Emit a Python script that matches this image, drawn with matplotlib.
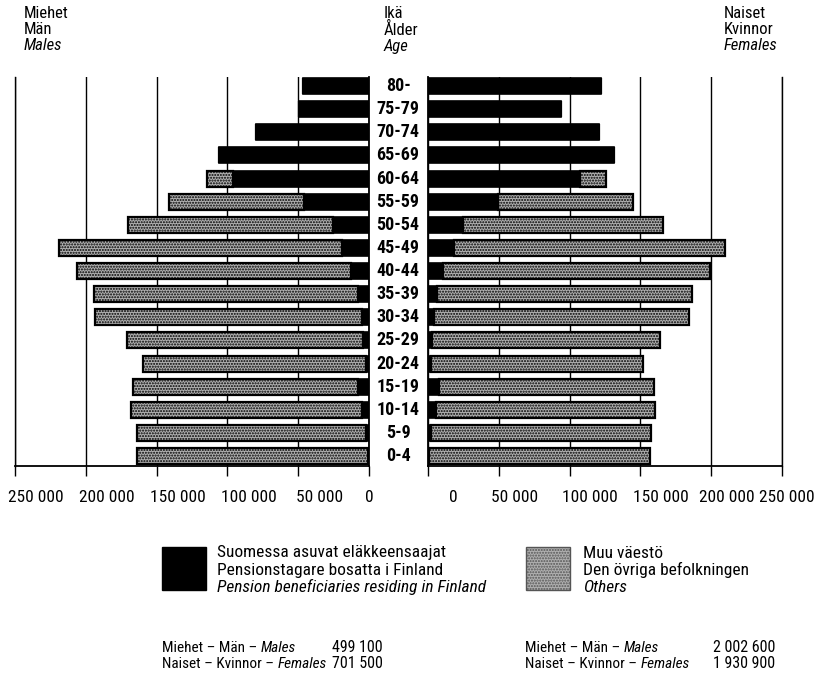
import matplotlib
matplotlib.use("Agg")
import matplotlib.pyplot as plt
import matplotlib.transforms as mtransforms
from matplotlib import font_manager as fm
import numpy as np

# ---------------- data (persons) ----------------
ages = ["0-4", "5-9", "10-14", "15-19", "20-24", "25-29", "30-34", "35-39",
        "40-44", "45-49", "50-54", "55-59", "60-64", "65-69", "70-74", "75-79", "80-"]

male_pension = [1000, 2100, 4900, 7800, 2100, 4200, 4900, 7800,
                12700, 19100, 25400, 45900, 96000, 106000, 79800, 49400, 46600]
male_others = [162800, 161700, 163200, 158900, 157500, 166700, 188600, 186400,
               193500, 199800, 144800, 95300, 18400, 0, 0, 0, 0]

female_pension = [1000, 2000, 5600, 7800, 2000, 2800, 4200, 6400,
                  10600, 18400, 24700, 49400, 107300, 131300, 120700, 93900, 122100]
female_others = [155800, 155500, 154700, 151800, 149800, 161000, 180100, 180000,
                 188500, 191300, 141300, 95300, 18400, 0, 0, 0, 0]

xticks = [0, 50000, 100000, 150000, 200000, 250000]
xtick_labels = ["0", "50 000", "100 000", "150 000", "200 000", "250 000"]

legend_pension = ["Suomessa asuvat eläkkeensaajat", "Pensionstagare bosatta i Finland",
                  "Pension beneficiaries residing in Finland"]
legend_others = ["Muu väestö", "Den övriga befolkningen", "Others"]
pension_totals = ["499 100", "701 500"]
others_totals = ["2 002 600", "1 930 900"]

# ---------------- font choice (prefer a condensed face) ----------------
names = {f.name for f in fm.fontManager.ttflist}
cands = ["Liberation Sans Narrow", "Roboto Condensed", "DejaVu Sans Condensed",
         "Noto Sans Condensed", "Open Sans Condensed", "Arial Narrow"]
cond = next((c for c in cands if c in names), None)
stretch = "normal"
if cond is None:
    for f in fm.fontManager.ttflist:
        if str(f.stretch) in ("condensed", "semi-condensed", "extra-condensed") and f.name in (
                "DejaVu Sans", "Noto Sans", "Open Sans", "Roboto", "Inter"):
            cond = f.name
            stretch = "condensed"
            break
if cond is None:
    cond = "Liberation Sans"
    SCALE = 0.9
else:
    SCALE = 1.0
plt.rcParams["font.family"] = [cond, "Liberation Sans", "DejaVu Sans"]
plt.rcParams["font.stretch"] = stretch
plt.rcParams["hatch.linewidth"] = 1.0

fig = plt.figure(figsize=(8.21, 6.78), dpi=100)
W, H = 821, 678

def fx(px):
    return px / W

def fy(py):
    return 1 - py / H

axL = fig.add_axes([fx(15), fy(466), fx(369) - fx(15), fy(77) - fy(466)])
axR = fig.add_axes([fx(428), fy(466), fx(782) - fx(428), fy(77) - fy(466)])

y = np.arange(len(ages))
bh = 0.69
gray = "#b0b0b0"

for ax, pen, oth in ((axL, male_pension, male_others), (axR, female_pension, female_others)):
    ax.barh(y, pen, height=bh, color="black", edgecolor="black", linewidth=1.2, zorder=3)
    ax.barh(y, oth, left=pen, height=bh, color=gray, edgecolor="black",
            linewidth=1.6, hatch="......", zorder=3)
    ax.set_ylim(-0.43, len(ages) - 1 + 0.39)
    ax.set_yticks([])
    ax.set_xticks(xticks)
    ax.set_xticklabels(xtick_labels, fontsize=12.5 * SCALE)
    ax.grid(axis="x", color="black", linewidth=1.0, zorder=0)
    ax.tick_params(axis="x", direction="out", length=7, width=1.0, pad=10)
    ax.spines["top"].set_visible(False)
    for s in ax.spines.values():
        s.set_linewidth(1.3)
    ax.spines["left"].set_linewidth(1.0)
    ax.spines["right"].set_linewidth(1.0)

axL.set_xlim(250000, 0)
axL.spines["right"].set_linewidth(1.3)
axR.set_xlim(0, 250000)
axR.spines["left"].set_linewidth(1.3)

# shift tick labels to mimic the original placement
for i, lab in enumerate(axL.get_xticklabels()):
    dx = 0 if i == 0 else 21
    lab.set_transform(lab.get_transform() + mtransforms.ScaledTranslation(dx / 100, 0, fig.dpi_scale_trans))
for i, lab in enumerate(axR.get_xticklabels()):
    dx = [25, 16, 20, 20, 16, 5][i]
    lab.set_transform(lab.get_transform() + mtransforms.ScaledTranslation(dx / 100, 0, fig.dpi_scale_trans))

# age labels between the panels
tr = mtransforms.blended_transform_factory(fig.transFigure, axL.transData)
for yi, a in zip(y, ages):
    fig.text(fx(398), yi, a, transform=tr, ha="center", va="center",
             fontsize=13 * SCALE, fontweight="bold")

FS = 12 * SCALE

# headers
def header(xpx, lines):
    for k, t in enumerate(lines):
        fig.text(fx(xpx), fy(13 + 16.5 * k), t, ha="left", va="center", fontsize=FS,
                 style="italic" if k == 2 else "normal")

header(24, ["Miehet", "Män", "Males"])
header(384, ["Ikä", "Ålder", "Age"])
header(724, ["Naiset", "Kvinnor", "Females"])

# legend
fig.patches.append(plt.Rectangle((fx(162), fy(590)), fx(206) - fx(162), fy(547) - fy(590),
                                 transform=fig.transFigure, facecolor="black", edgecolor="black"))
fig.patches.append(plt.Rectangle((fx(526), fy(590)), fx(570) - fx(526), fy(547) - fy(590),
                                 transform=fig.transFigure, facecolor=gray, edgecolor="#555555",
                                 hatch="......", linewidth=1.0))
for k, t in enumerate(legend_pension):
    fig.text(fx(217), fy(553 + 17 * k), t, ha="left", va="center", fontsize=12.5 * SCALE,
             style="italic" if k == 2 else "normal")
for k, t in enumerate(legend_others):
    fig.text(fx(583), fy(553 + 17 * k), t, ha="left", va="center", fontsize=12.5 * SCALE,
             style="italic" if k == 2 else "normal")

# totals
TFS = 11 * SCALE

def total_line(xpx, ypx, prefix, ital, value, xend):
    t = fig.text(fx(xpx), fy(ypx), prefix, ha="left", va="baseline", fontsize=TFS)
    fig.add_artist(matplotlib.text.Annotation(ital, xy=(1, 0), xycoords=t, va="bottom", ha="left",
                                              fontsize=TFS, style="italic", annotation_clip=False))
    fig.text(fx(xend), fy(ypx), value, ha="right", va="baseline", fontsize=TFS + 0.5)

total_line(162, 652, "Miehet – Män – ", "Males", pension_totals[0], 383)
total_line(162, 668, "Naiset – Kvinnor – ", "Females", pension_totals[1], 383)
total_line(525, 652, "Miehet – Män – ", "Males", others_totals[0], 775)
total_line(525, 668, "Naiset – Kvinnor – ", "Females", others_totals[1], 775)

fig.savefig("out.png", dpi=100)
